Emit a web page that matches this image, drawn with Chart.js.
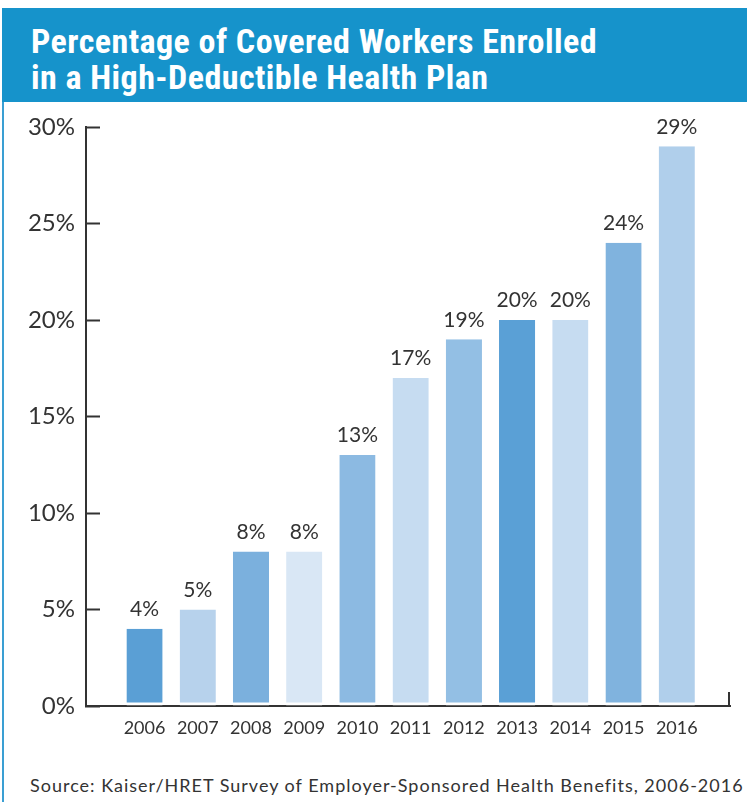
<!DOCTYPE html>
<html>
<head>
<meta charset="utf-8">
<script src="https://cdn.jsdelivr.net/npm/chart.js@4.4.1/dist/chart.umd.min.js"></script>
<style>
  html, body { margin: 0; padding: 0; background: #fff; }
  body { width: 747px; height: 802px; position: relative; overflow: hidden; font-family: Lato, "DejaVu Sans", sans-serif; }
  .frame { position: absolute; left: 2px; top: 8px; width: 2px; height: 794px; background: #3a9fd3; }
  .header { position: absolute; left: 2px; top: 8px; width: 745px; height: 94px; background: #1693cb; }
  .header h1 { margin: 0; position: absolute; left: 29px; top: 15px; color: #fff;
    font-family: "Liberation Sans Narrow", "Roboto Condensed", Roboto, sans-serif; font-weight: bold;
    font-size: 34px; line-height: 36px; letter-spacing: 0.45px; }
  .source { position: absolute; left: 30px; top: 774px; font-size: 18px; letter-spacing: 1px; color: #333; white-space: nowrap; }
  #chart { position: absolute; left: 0; top: 102px; }
</style>
</head>
<body>
<div class="frame"></div>
<div class="header"><h1>Percentage of Covered Workers Enrolled<br>in a High-Deductible Health Plan</h1></div>
<canvas id="chart" width="747" height="658"></canvas>
<div class="source">Source: Kaiser/HRET Survey of Employer-Sponsored Health Benefits, 2006-2016</div>

<script>
const years = ['2006', '2007', '2008', '2009', '2010', '2011', '2012', '2013', '2014', '2015', '2016'];
const enrolled = [4, 5, 8, 8, 13, 17, 19, 20, 20, 24, 29];
const yTicks = [0, 5, 10, 15, 20, 25, 30];

const barColors = ['#5a9fd5', '#b7d2ec', '#7bb0dd', '#d9e7f5', '#8cbae2', '#c6dcf1',
                   '#93bfe4', '#5aa0d6', '#c6dcf1', '#80b3de', '#b0cfeb'];

// value labels above each bar
const barLabels = {
  id: 'barLabels',
  afterDatasetsDraw(chart) {
    const ctx = chart.ctx;
    const meta = chart.getDatasetMeta(0);
    ctx.save();
    ctx.font = '21px Lato, "DejaVu Sans", sans-serif';
    ctx.fillStyle = '#333';
    ctx.textAlign = 'center';
    ctx.textBaseline = 'bottom';
    meta.data.forEach((bar, i) => {
      ctx.fillText(enrolled[i] + '%', bar.x, bar.y - 9);
    });
    ctx.restore();
  }
};

// small closing tick at the right end of the x axis
const axisCap = {
  id: 'axisCap',
  afterDraw(chart) {
    const { ctx, chartArea } = chart;
    ctx.save();
    ctx.strokeStyle = '#333';
    ctx.lineWidth = 2;
    ctx.beginPath();
    ctx.moveTo(chartArea.right - 1, chartArea.bottom + 1);
    ctx.lineTo(chartArea.right - 1, chartArea.bottom - 14);
    ctx.stroke();
    ctx.restore();
  }
};

new Chart(document.getElementById('chart'), {
  type: 'bar',
  data: {
    labels: years,
    datasets: [{
      data: enrolled,
      backgroundColor: barColors,
      borderColor: '#fff',
      borderWidth: { top: 0, left: 0, right: 0, bottom: 3 },
      borderSkipped: false,
      categoryPercentage: 1,
      barPercentage: 0.68
    }]
  },
  options: {
    responsive: false,
    devicePixelRatio: 1,
    animation: false,
    layout: { padding: { top: 25, right: 17, left: 0, bottom: 0 } },
    plugins: {
      legend: { display: false },
      tooltip: { enabled: false }
    },
    scales: {
      x: {
        type: 'linear',
        offset: false,
        min: 2004.9,
        max: 2017,
        afterFit(scale) { scale.height = 54; },
        border: { display: true, color: '#333', width: 2 },
        grid: { display: false, drawTicks: false },
        ticks: {
          stepSize: 1,
          autoSkip: false,
          maxRotation: 0,
          padding: 11,
          color: '#333',
          font: { family: 'Lato, "DejaVu Sans", sans-serif', size: 18 },
          callback: (v) => years.includes(String(v)) ? String(v) : ''
        }
      },
      y: {
        min: 0,
        max: 30,
        afterFit(scale) {
          scale.width = 86;
          scale.paddingTop = 0;
          scale.paddingBottom = 0;
        },
        afterBuildTicks(scale) { scale.ticks = yTicks.map(v => ({ value: v })); },
        border: { display: true, color: '#333', width: 2 },
        grid: { drawOnChartArea: false, drawTicks: true, tickLength: -14, tickColor: '#333', tickWidth: 2 },
        ticks: {
          padding: 25,
          color: '#333',
          font: { family: 'Lato, "DejaVu Sans", sans-serif', size: 24 },
          callback: (v) => v + '%'
        }
      }
    }
  },
  plugins: [barLabels, axisCap]
});
</script>
</body>
</html>
